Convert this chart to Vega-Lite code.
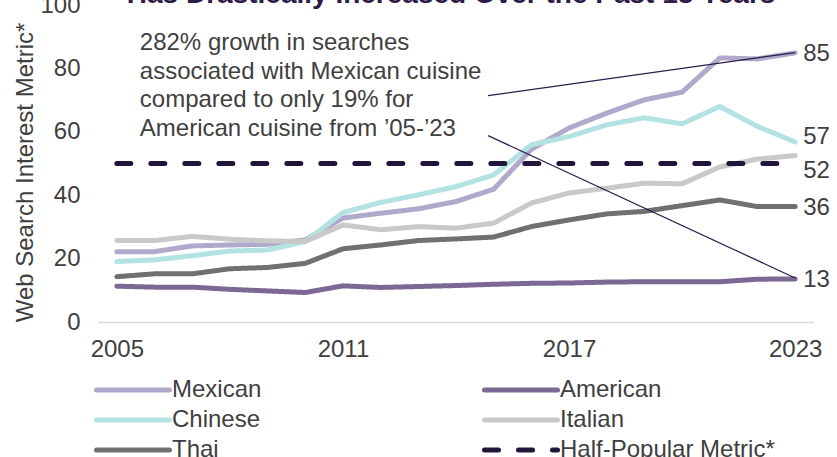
{
  "$schema": "https://vega.github.io/schema/vega-lite/v6.json",
  "width": 716,
  "height": 317,
  "autosize": {"type": "none"},
  "padding": {"left": 98, "top": 5, "right": 23, "bottom": 135},
  "background": "white",
  "config": {"font": "Liberation Sans", "view": {"stroke": null}},
  "datasets": {
    "series": [
      {"year": 2005, "series": "Mexican", "value": 22.2}, {"year": 2006, "series": "Mexican", "value": 22.2}, {"year": 2007, "series": "Mexican", "value": 24.0}, {"year": 2008, "series": "Mexican", "value": 24.3}, {"year": 2009, "series": "Mexican", "value": 24.5}, {"year": 2010, "series": "Mexican", "value": 25.9}, {"year": 2011, "series": "Mexican", "value": 32.8}, {"year": 2012, "series": "Mexican", "value": 34.3}, {"year": 2013, "series": "Mexican", "value": 35.7}, {"year": 2014, "series": "Mexican", "value": 38.0}, {"year": 2015, "series": "Mexican", "value": 41.9}, {"year": 2016, "series": "Mexican", "value": 54.5}, {"year": 2017, "series": "Mexican", "value": 61.2}, {"year": 2018, "series": "Mexican", "value": 65.9}, {"year": 2019, "series": "Mexican", "value": 70.1}, {"year": 2020, "series": "Mexican", "value": 72.5}, {"year": 2021, "series": "Mexican", "value": 83.3}, {"year": 2022, "series": "Mexican", "value": 83.0}, {"year": 2023, "series": "Mexican", "value": 84.9},
      {"year": 2005, "series": "American", "value": 11.3}, {"year": 2006, "series": "American", "value": 11.0}, {"year": 2007, "series": "American", "value": 11.0}, {"year": 2008, "series": "American", "value": 10.3}, {"year": 2009, "series": "American", "value": 9.8}, {"year": 2010, "series": "American", "value": 9.3}, {"year": 2011, "series": "American", "value": 11.4}, {"year": 2012, "series": "American", "value": 10.9}, {"year": 2013, "series": "American", "value": 11.2}, {"year": 2014, "series": "American", "value": 11.5}, {"year": 2015, "series": "American", "value": 11.9}, {"year": 2016, "series": "American", "value": 12.2}, {"year": 2017, "series": "American", "value": 12.3}, {"year": 2018, "series": "American", "value": 12.6}, {"year": 2019, "series": "American", "value": 12.7}, {"year": 2020, "series": "American", "value": 12.7}, {"year": 2021, "series": "American", "value": 12.7}, {"year": 2022, "series": "American", "value": 13.5}, {"year": 2023, "series": "American", "value": 13.6},
      {"year": 2005, "series": "Chinese", "value": 19.1}, {"year": 2006, "series": "Chinese", "value": 19.6}, {"year": 2007, "series": "Chinese", "value": 20.9}, {"year": 2008, "series": "Chinese", "value": 22.4}, {"year": 2009, "series": "Chinese", "value": 22.7}, {"year": 2010, "series": "Chinese", "value": 25.4}, {"year": 2011, "series": "Chinese", "value": 34.5}, {"year": 2012, "series": "Chinese", "value": 37.7}, {"year": 2013, "series": "Chinese", "value": 40.1}, {"year": 2014, "series": "Chinese", "value": 42.7}, {"year": 2015, "series": "Chinese", "value": 46.4}, {"year": 2016, "series": "Chinese", "value": 55.9}, {"year": 2017, "series": "Chinese", "value": 58.5}, {"year": 2018, "series": "Chinese", "value": 62.2}, {"year": 2019, "series": "Chinese", "value": 64.4}, {"year": 2020, "series": "Chinese", "value": 62.5}, {"year": 2021, "series": "Chinese", "value": 68.0}, {"year": 2022, "series": "Chinese", "value": 61.7}, {"year": 2023, "series": "Chinese", "value": 56.8},
      {"year": 2005, "series": "Italian", "value": 25.7}, {"year": 2006, "series": "Italian", "value": 25.7}, {"year": 2007, "series": "Italian", "value": 27.0}, {"year": 2008, "series": "Italian", "value": 26.1}, {"year": 2009, "series": "Italian", "value": 25.6}, {"year": 2010, "series": "Italian", "value": 25.4}, {"year": 2011, "series": "Italian", "value": 30.6}, {"year": 2012, "series": "Italian", "value": 29.1}, {"year": 2013, "series": "Italian", "value": 30.1}, {"year": 2014, "series": "Italian", "value": 29.6}, {"year": 2015, "series": "Italian", "value": 31.2}, {"year": 2016, "series": "Italian", "value": 37.5}, {"year": 2017, "series": "Italian", "value": 40.7}, {"year": 2018, "series": "Italian", "value": 42.2}, {"year": 2019, "series": "Italian", "value": 43.8}, {"year": 2020, "series": "Italian", "value": 43.6}, {"year": 2021, "series": "Italian", "value": 48.9}, {"year": 2022, "series": "Italian", "value": 51.4}, {"year": 2023, "series": "Italian", "value": 52.5},
      {"year": 2005, "series": "Thai", "value": 14.3}, {"year": 2006, "series": "Thai", "value": 15.2}, {"year": 2007, "series": "Thai", "value": 15.2}, {"year": 2008, "series": "Thai", "value": 16.8}, {"year": 2009, "series": "Thai", "value": 17.2}, {"year": 2010, "series": "Thai", "value": 18.5}, {"year": 2011, "series": "Thai", "value": 23.1}, {"year": 2012, "series": "Thai", "value": 24.3}, {"year": 2013, "series": "Thai", "value": 25.7}, {"year": 2014, "series": "Thai", "value": 26.2}, {"year": 2015, "series": "Thai", "value": 26.8}, {"year": 2016, "series": "Thai", "value": 30.1}, {"year": 2017, "series": "Thai", "value": 32.2}, {"year": 2018, "series": "Thai", "value": 34.1}, {"year": 2019, "series": "Thai", "value": 34.9}, {"year": 2020, "series": "Thai", "value": 36.7}, {"year": 2021, "series": "Thai", "value": 38.5}, {"year": 2022, "series": "Thai", "value": 36.4}, {"year": 2023, "series": "Thai", "value": 36.4},
      {"year": 2005, "series": "Half-Popular Metric*", "value": 50}, {"year": 2023, "series": "Half-Popular Metric*", "value": 50}
    ],
    "callouts": [
      {"seg": "a", "year": 2014.85, "value": 71.4}, {"seg": "a", "year": 2023, "value": 85.0},
      {"seg": "b", "year": 2014.85, "value": 58.8}, {"seg": "b", "year": 2023, "value": 13.9}
    ],
    "endLabels": [
      {"year": 2023, "value": 84.7, "text": "85"},
      {"year": 2023, "value": 58.5, "text": "57"},
      {"year": 2023, "value": 47.5, "text": "52"},
      {"year": 2023, "value": 36.0, "text": "36"},
      {"year": 2023, "value": 13.3, "text": "13"}
    ],
    "note": [
      {"year": 2005.61, "value": 85.7, "text": "282% growth in searches\nassociated with Mexican cuisine\ncompared to only 19% for\nAmerican cuisine from ’05-’23"}
    ],
    "heading": [
      {"year": 2013.87, "value": 100.5, "text": "Has Drastically Increased Over the Past 18 Years"}
    ]
  },
  "encoding": {
    "x": {"field": "year", "type": "quantitative", "scale": {"domain": [2004.5, 2023.5], "nice": false, "zero": false},
      "axis": {"values": [2005, 2011, 2017, 2023], "format": "d", "title": null, "labelFontSize": 24, "labelColor": "#404040", "labelPadding": 15, "domainColor": "#d9d9d9", "domainWidth": 1.5, "ticks": false, "grid": false}},
    "y": {"field": "value", "type": "quantitative", "scale": {"domain": [0, 100], "nice": false},
      "axis": {"values": [0, 20, 40, 60, 80, 100], "title": "Web Search  Interest Metric*", "titleFontSize": 24, "titleFontWeight": "normal", "titleColor": "#404040", "titlePadding": 2, "titleY": 167, "labelFontSize": 24, "labelColor": "#404040", "labelPadding": 18, "domain": false, "ticks": false, "grid": false}}
  },
  "layer": [
    {
      "data": {"name": "series"},
      "mark": {"type": "line", "strokeWidth": 5, "strokeCap": "round", "strokeJoin": "round"},
      "encoding": {
        "color": {"field": "series", "type": "nominal",
          "scale": {"domain": ["Mexican", "Chinese", "Thai", "American", "Italian", "Half-Popular Metric*"], "range": ["#b1a9cb", "#b2e2e2", "#707070", "#7b6894", "#c9c9c9", "#21153a"]},
          "legend": {"title": null, "orient": "none", "legendX": 20, "legendY": 370, "columns": 2, "columnPadding": 212, "rowPadding": 3, "symbolType": "M-3,0H3", "symbolSize": 592, "symbolStrokeWidth": 5, "labelFontSize": 24, "labelColor": "#404040", "labelOffset": 24, "padding": 0, "labelLimit": 400, "encode": {"symbols": {"update": {"strokeCap": {"value": "round"}}}}}},
        "strokeDash": {"field": "series", "type": "nominal",
          "scale": {"domain": ["Mexican", "Chinese", "Thai", "American", "Italian", "Half-Popular Metric*"], "range": [[1, 0], [1, 0], [1, 0], [1, 0], [1, 0], [14, 20]]},
          "legend": {"title": null, "orient": "none", "legendX": 20, "legendY": 370, "columns": 2, "columnPadding": 212, "rowPadding": 3, "symbolType": "M-3,0H3", "symbolSize": 592, "symbolStrokeWidth": 5, "labelFontSize": 24, "labelColor": "#404040", "labelOffset": 24, "padding": 0, "labelLimit": 400, "encode": {"symbols": {"update": {"strokeCap": {"value": "round"}}}}}}
      }
    },
    {
      "data": {"name": "callouts"},
      "mark": {"type": "line", "color": "#2a1b4b", "strokeWidth": 1.2},
      "encoding": {"detail": {"field": "seg", "type": "nominal"}}
    },
    {
      "data": {"name": "endLabels"},
      "mark": {"type": "text", "align": "left", "baseline": "middle", "dx": 8, "fontSize": 24, "color": "#404040"},
      "encoding": {"text": {"field": "text", "type": "nominal"}}
    },
    {
      "data": {"name": "note"},
      "mark": {"type": "text", "align": "left", "baseline": "alphabetic", "lineBreak": "\n", "lineHeight": 28.5, "fontSize": 24, "color": "#404040"},
      "encoding": {"text": {"field": "text", "type": "nominal"}}
    },
    {
      "data": {"name": "heading"},
      "mark": {"type": "text", "align": "center", "baseline": "alphabetic", "fontSize": 28, "fontWeight": "bold", "color": "#2e1a47", "clip": false},
      "encoding": {"text": {"field": "text", "type": "nominal"}}
    }
  ]
}
